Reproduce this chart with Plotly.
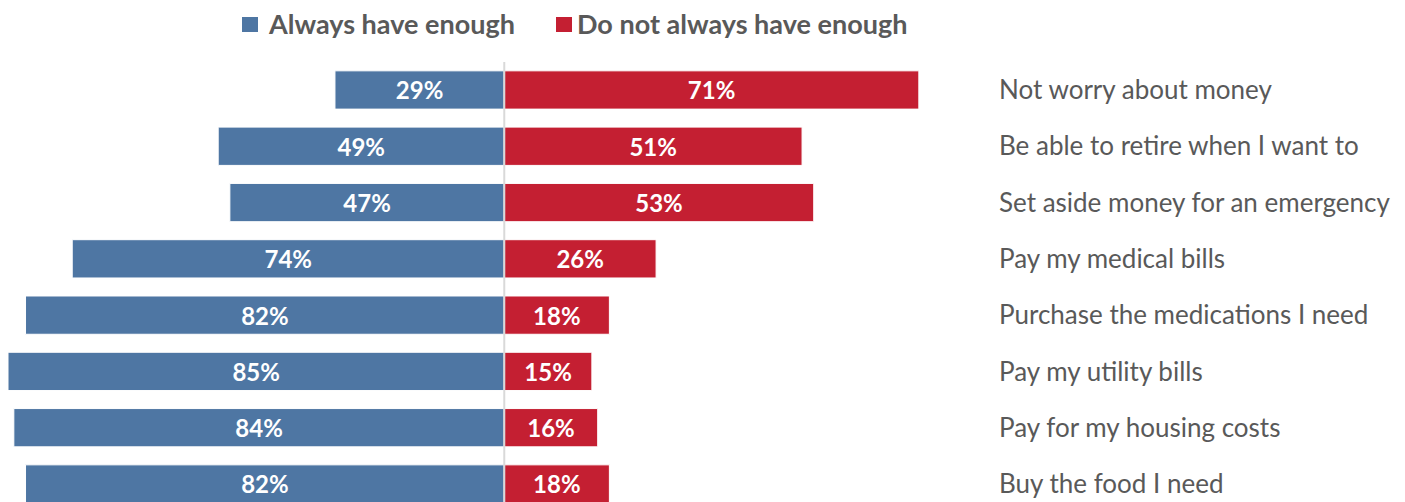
import plotly.graph_objects as go

categories = [
    "Not worry about money",
    "Be able to retire when I want to",
    "Set aside money for an emergency",
    "Pay my medical bills",
    "Purchase the medications I need",
    "Pay my utility bills",
    "Pay for my housing costs",
    "Buy the food I need",
]
always = [29, 49, 47, 74, 82, 85, 84, 82]
not_always = [71, 51, 53, 26, 18, 15, 16, 18]
series_names = ["Always have enough", "Do not always have enough"]

BLUE = "#4e76a3"
RED = "#c41f32"
GRAY = "#595959"
FONT = "Lato"

# page has an 8px body margin: figure drawn at (8,8)
W, H = 1397, 494
PLOT_W, PLOT_TOP = 990, 54
PLOT_H = H - PLOT_TOP

fig = go.Figure()
fig.add_trace(go.Bar(
    y=categories, x=[-v for v in always], orientation="h",
    name=series_names[0],
    marker=dict(color=BLUE, line=dict(color="white", width=1)),
    text=[f"{v}%" for v in always], textposition="inside",
    insidetextanchor="middle", textangle=0,
    textfont=dict(color="white", size=24, family=FONT, weight="bold"),
))
fig.add_trace(go.Bar(
    y=categories, x=not_always, orientation="h",
    name=series_names[1],
    marker=dict(color=RED, line=dict(color="white", width=1)),
    text=[f"{v}%" for v in not_always], textposition="inside",
    insidetextanchor="middle", textangle=0,
    textfont=dict(color="white", size=24, family=FONT, weight="bold"),
))

fig.add_shape(type="line", xref="x", yref="paper", x0=0, x1=0, y0=0, y1=1,
              line=dict(color="#d9d9d9", width=2), layer="above")

# manual legend
def px_x(p):
    return p / PLOT_W

def px_y(p):
    return (H - p) / PLOT_H

legend_items = [(series_names[0], BLUE, 234, 258), (series_names[1], RED, 548, 567)]
for name, col, sx, tx in legend_items:
    fig.add_shape(type="rect", xref="paper", yref="paper",
                  x0=px_x(sx), x1=px_x(sx + 16), y0=px_y(24), y1=px_y(9),
                  fillcolor=col, line=dict(width=0))
    fig.add_annotation(xref="paper", yref="paper", x=px_x(tx), y=px_y(16),
                       xanchor="left", yanchor="middle", showarrow=False,
                       text=name, font=dict(size=27, color=GRAY, family=FONT, weight="bold"))

fig.update_layout(
    width=W, height=H,
    barmode="relative", bargap=0.32,
    plot_bgcolor="white", paper_bgcolor="white",
    margin=dict(l=0, r=W - PLOT_W, t=PLOT_TOP, b=0),
    font=dict(family=FONT, color=GRAY),
    showlegend=False,
    uniformtext=dict(mode="show", minsize=10),
)
fig.update_xaxes(range=[-85.0, 84.56], showgrid=False, zeroline=False,
                 showticklabels=False, fixedrange=True)
fig.update_yaxes(categoryorder="array", categoryarray=categories,
                 range=[7.32, -0.497], side="right", showgrid=False,
                 zeroline=False, ticks="", ticklabelstandoff=0,
                 tickfont=dict(size=26, color=GRAY, family=FONT))

fig.write_html("out.html")
